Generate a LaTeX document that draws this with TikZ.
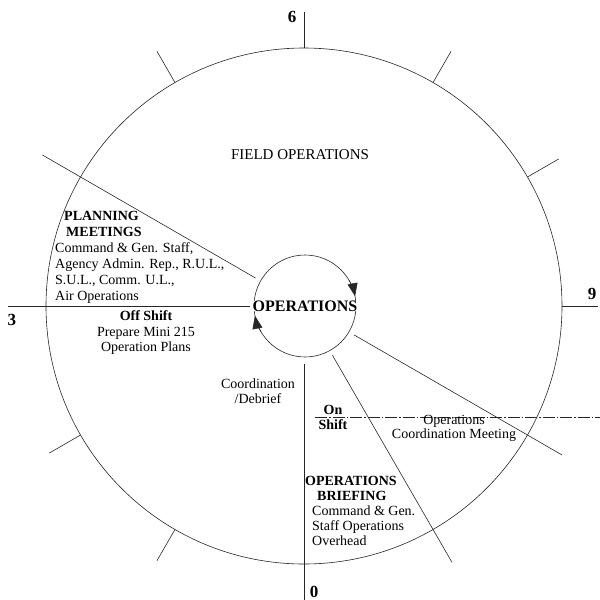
\documentclass[tikz,border=0pt]{standalone}
\usepackage{fontspec}
\setmainfont{Liberation Serif}
\usetikzlibrary{arrows.meta,calc}
\begin{document}
\begin{tikzpicture}[x=1pt,y=-1pt,
  rim/.style={line width=0.6pt, draw=black!85},
  lbl/.style={inner sep=0pt, font=\fontsize{14}{15.5}\selectfont},
  hour/.style={inner sep=0pt, font=\fontsize{17}{17}\selectfont\bfseries},
  turn/.style={rim, -{Triangle[length=13pt,width=10pt]}},
]
\useasboundingbox (0,0) rectangle (600,600);
\coordinate (C) at (304,306);
\coordinate (S) at (305,306);

% outer clock face and inner cycle
\draw[rim] (C) circle (258);
\draw[rim] (S) circle (51);

% hour ticks outside the rim
\foreach \a in {-120,-90,-60,-30,0,120,150}
  \draw[rim] ($(C)+(\a:258)$) -- ($(C)+(\a:294)$);

% sector boundaries from the inner cycle outwards
\draw[rim] ($(C)+(-150:56)$) -- ($(C)+(-150:302)$);
\draw[rim] ($(C)+(180:54)$) -- ($(C)+(180:296)$);
\draw[rim] ($(C)+(90:58)$) -- ($(C)+(90:296)$);
\draw[rim] ($(C)+(30:58)$) -- ($(C)+(30:298)$);
\draw[rim] ($(C)+(60:57)$) -- ($(C)+(60:296)$);

% shift change line
\coordinate (shiftA) at (315,417);
\coordinate (shiftB) at (600,417);
\draw[rim, dash pattern=on 12pt off 2pt on 1.5pt off 2pt] (shiftA) -- (shiftB);

% clockwise arrows on the inner cycle
\draw[turn] ($(S)+(-30:51)$) arc (-30:-11:51);
\draw[turn] ($(S)+(150:51)$) arc (150:169:51);

% hour labels
\node[hour] (six) at (292,17) {6};
\node[hour] (three) at (12,320) {3};
\node[hour] (nine) at (592,294) {9};
\node[hour] (zero) at (314,592) {0};

% sector texts
\node[inner sep=0pt, font=\fontsize{15}{15}\selectfont] (field) at (300,155) {FIELD OPERATIONS};
\node[inner sep=0pt, fill=white, inner xsep=1pt, font=\fontsize{16}{16}\selectfont\bfseries] (ops) at (305,306) {OPERATIONS};

\node[lbl, font=\fontsize{14}{16}\selectfont, anchor=west, align=left] (plan) at (55,257)
  {\hspace*{9pt}\textbf{PLANNING}\\
   \hspace*{11pt}\textbf{MEETINGS}\\
   Command \& Gen. Staff,\\
   Agency Admin. Rep., R.U.L.,\\
   S.U.L., Comm. U.L.,\\
   Air Operations};

\node[lbl, align=center] (off) at (146,333)
  {\textbf{Off Shift}\\ Prepare Mini 215\\ Operation Plans};

\node[lbl, font=\fontsize{14}{15}\selectfont, align=center] (coord) at (258,391)
  {Coordination\\ /Debrief};

\node[lbl, font=\fontsize{14}{15}\selectfont\bfseries, align=center] (on) at (333,417)
  {On\\ Shift};

\node[lbl, font=\fontsize{14}{14}\selectfont, align=center] (meet) at (454,428)
  {Operations\\ Coordination Meeting};

\node[lbl, font=\fontsize{14}{15}\selectfont, anchor=west, align=left] (brief) at (305,511)
  {\textbf{OPERATIONS}\\
   \hspace*{12pt}\textbf{BRIEFING}\\
   \hspace*{7pt}Command \& Gen.\\
   \hspace*{7pt}Staff Operations\\
   \hspace*{7pt}Overhead};
\end{tikzpicture}
\end{document}
